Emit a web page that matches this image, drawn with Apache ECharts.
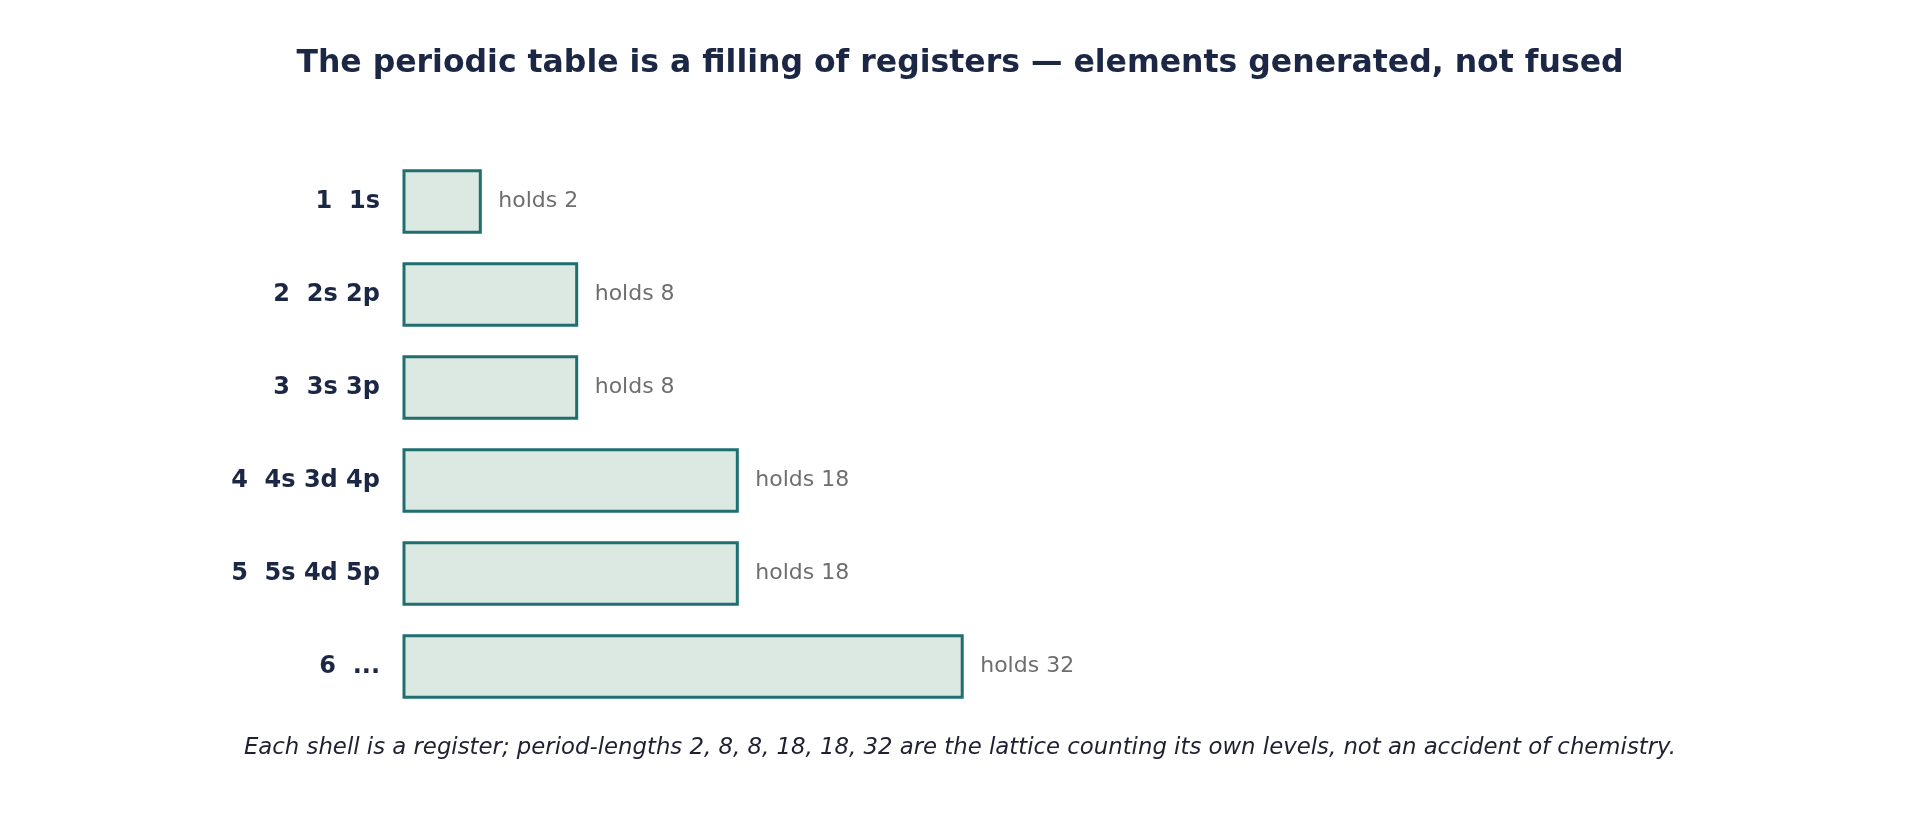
<!DOCTYPE html>
<html>
<head>
<meta charset="utf-8">
<title>Periodic table as register filling</title>
<script src="https://cdn.jsdelivr.net/npm/echarts@6/dist/echarts.min.js"></script>
<style>
  html, body { margin: 0; padding: 0; background: #ffffff; }
  #chart { width: 1920px; height: 840px; }
</style>
</head>
<body>
<div id="chart"></div>
<script>
// shells / periods and how many electrons each holds
const shells = ['1  1s', '2  2s 2p', '3  3s 3p', '4  4s 3d 4p', '5  5s 4d 5p', '6  ...'];
const capacities = [2, 8, 8, 18, 18, 32];

const titleText = 'The periodic table is a filling of registers \u2014 elements generated, not fused';
const footText = 'Each shell is a register; period-lengths 2, 8, 8, 18, 18, 32 are the lattice counting its own levels, not an accident of chemistry.';

const FONT = '"DejaVu Sans", sans-serif';
const X_MIN = -2.75;

const chart = echarts.init(document.getElementById('chart'));

function renderBar(params, api) {
  const cat = api.value(0);
  const val = api.value(1);
  const start = api.coord([X_MIN, cat]);
  const end = api.coord([val, cat]);
  const h = api.size([0, 1])[1] * 0.66;
  return {
    type: 'group',
    children: [
      {
        type: 'rect',
        shape: { x: start[0], y: start[1] - h / 2, width: end[0] - start[0], height: h },
        style: { fill: '#dce8e2', stroke: '#1f6e70', lineWidth: 3 }
      },
      {
        type: 'text',
        x: end[0] + 18,
        y: end[1],
        style: {
          text: 'holds ' + val,
          fill: '#6e6e6e',
          fontFamily: FONT,
          fontSize: 22,
          verticalAlign: 'middle',
          align: 'left'
        }
      }
    ]
  };
}

const option = {
  backgroundColor: '#ffffff',
  animation: false,
  title: {
    text: titleText,
    left: 'center',
    top: 43,
    textStyle: { fontFamily: FONT, fontSize: 31.5, fontWeight: 'bold', color: '#1b2744' }
  },
  graphic: [
    {
      type: 'text',
      left: 'center',
      top: 737,
      style: {
        text: footText,
        fontFamily: FONT,
        fontStyle: 'italic',
        fontSize: 22.8,
        fill: '#1f2030'
      }
    }
  ],
  grid: { left: 404, width: 1008, top: 155, height: 558 },
  xAxis: {
    type: 'value',
    min: X_MIN,
    max: 60,
    show: false
  },
  yAxis: {
    type: 'category',
    data: shells,
    inverse: true,
    axisLine: { show: false },
    axisTick: { show: false },
    splitLine: { show: false },
    axisLabel: {
      margin: 24,
      fontFamily: FONT,
      fontSize: 24,
      fontWeight: 'bold',
      color: '#1b2744'
    }
  },
  series: [
    {
      type: 'custom',
      renderItem: renderBar,
      clip: false,
      data: capacities.map((v, i) => [i, v]),
      encode: { x: 1, y: 0 }
    }
  ]
};

chart.setOption(option);
</script>
</body>
</html>
